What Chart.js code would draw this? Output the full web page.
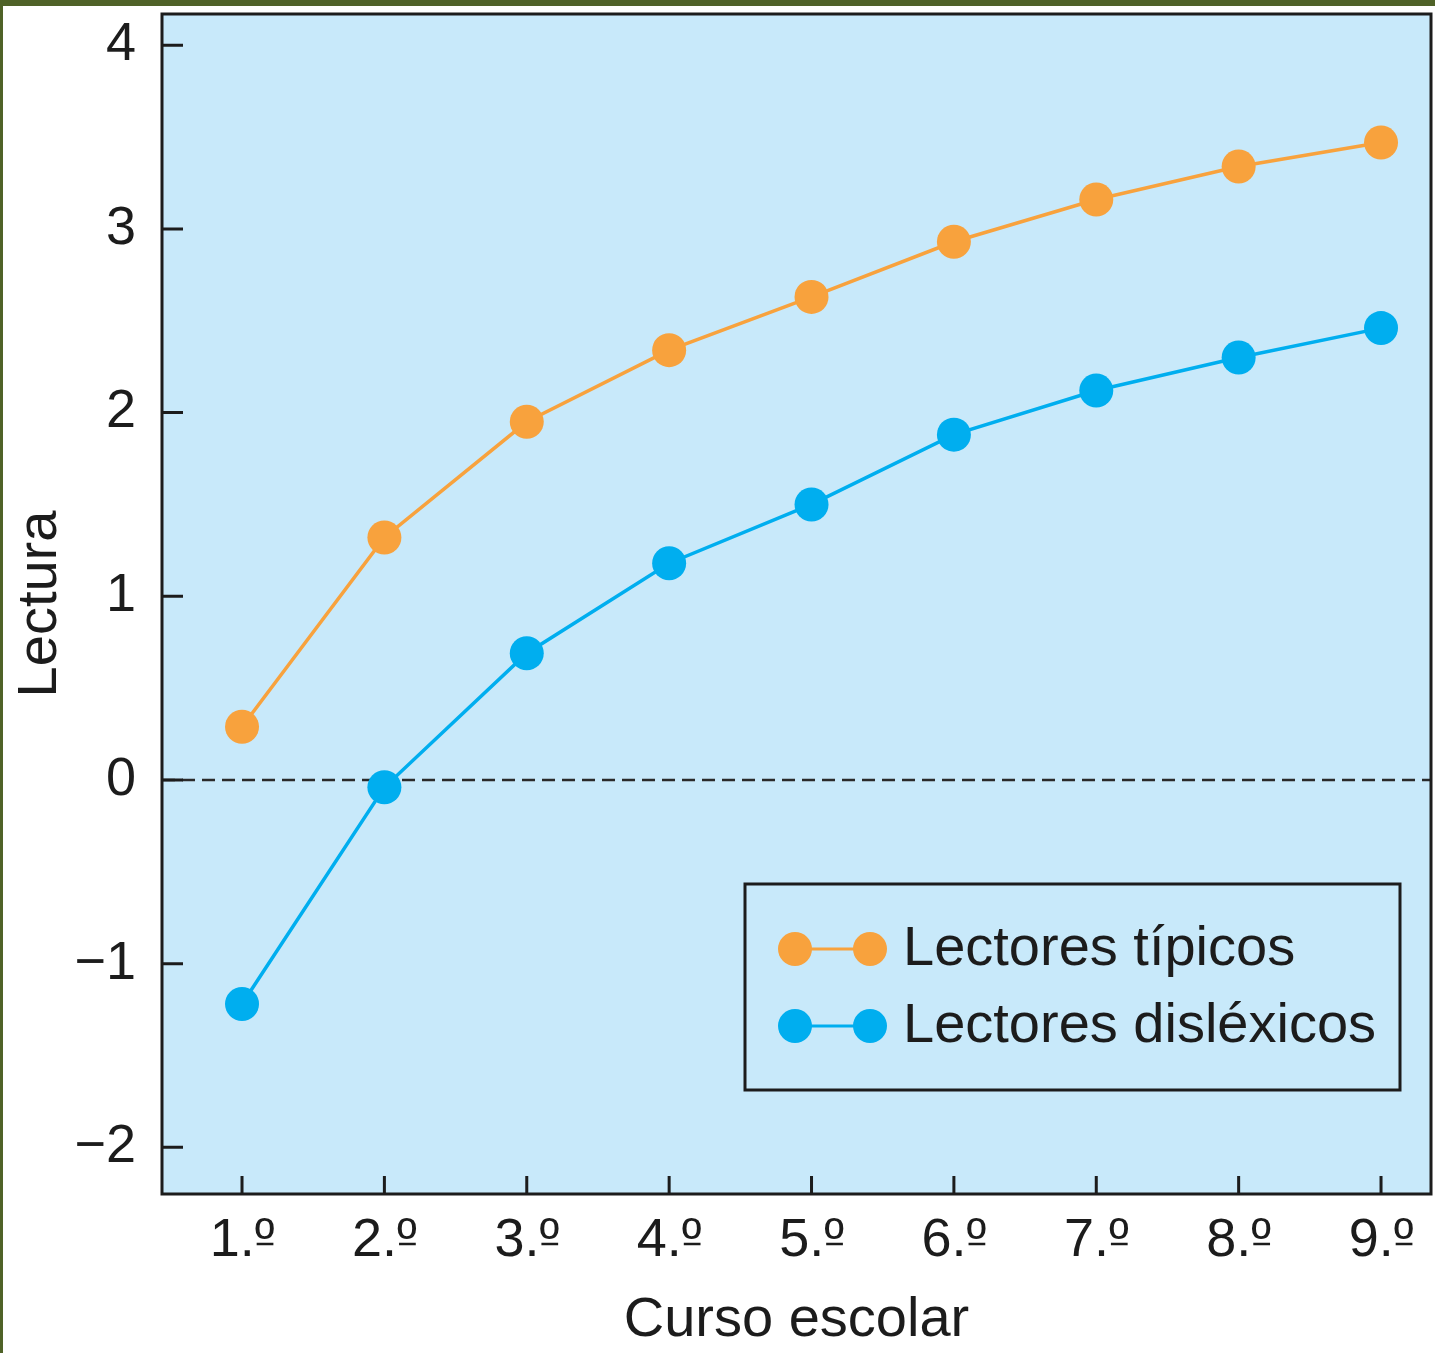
<!DOCTYPE html>
<html>
<head>
<meta charset="utf-8">
<script src="https://cdn.jsdelivr.net/npm/chart.js@4.4.1/dist/chart.umd.min.js"></script>
<style>
html,body{margin:0;padding:0;background:#fff;}
#wrap{position:relative;width:1435px;height:1353px;overflow:hidden;}
#c{position:absolute;left:0;top:0;}
#frameTop{position:absolute;left:0;top:0;width:1435px;height:6px;background:#4f6228;}
#frameLeft{position:absolute;left:0;top:0;width:3px;height:1353px;background:#4f6228;}
</style>
</head>
<body>
<div id="wrap">
<canvas id="c" width="1435" height="1353" style="width:1435px;height:1353px;"></canvas>
<div id="frameTop"></div><div id="frameLeft"></div>
</div>
<script>
// ---- data ----
const grades = ['1.º','2.º','3.º','4.º','5.º','6.º','7.º','8.º','9.º'];
const gradeNumbers = [1,2,3,4,5,6,7,8,9];
const typicalReaders = [0.29,1.32,1.95,2.34,2.63,2.93,3.16,3.34,3.47];
const dyslexicReaders = [-1.22,-0.04,0.69,1.18,1.50,1.88,2.12,2.30,2.46];
const yTickValues = [-2,-1,0,1,2,3,4];
const seriesNames = ['Lectores típicos','Lectores disléxicos'];
const yTitle = 'Lectura';
const xTitle = 'Curso escolar';

// ---- styles ----
const ORANGE = '#F8A23D';
const BLUE = '#00AEEF';
const PLOT_BG = '#C8E9FA';
const INK = '#1c1c1c';
const FONT = '"Liberation Sans", Arial, Helvetica, sans-serif';
const TICK_SIZE = 54;

Chart.defaults.font.family = FONT;

const toPoints = arr => arr.map((v,i)=>({x:gradeNumbers[i], y:v}));
const zeroPad = s => { s.paddingTop = 0; s.paddingBottom = 0; s.paddingLeft = 0; s.paddingRight = 0; };

const plotDecor = {
  id:'plotDecor',
  beforeDatasetsDraw(chart){
    const {ctx, chartArea:a, scales:{x,y}} = chart;
    ctx.save();
    ctx.fillStyle = PLOT_BG;
    ctx.fillRect(a.left, a.top, a.right-a.left, a.bottom-a.top);
    const y0 = y.getPixelForValue(0);
    ctx.strokeStyle = '#2a2a2a';
    ctx.lineWidth = 2.5;
    ctx.setLineDash([13,7]);
    ctx.beginPath();
    ctx.moveTo(a.left, y0);
    ctx.lineTo(a.right, y0);
    ctx.stroke();
    ctx.restore();
  },
  afterDatasetsDraw(chart){
    const {ctx, chartArea:a, scales:{x,y}} = chart;
    ctx.save();
    ctx.strokeStyle = INK;
    ctx.lineWidth = 3;
    ctx.beginPath();
    y.ticks.forEach(t=>{
      const py = y.getPixelForValue(t.value);
      ctx.moveTo(a.left, py); ctx.lineTo(a.left+21, py);
    });
    x.ticks.forEach(t=>{
      const px = x.getPixelForValue(t.value);
      ctx.moveTo(px, a.bottom); ctx.lineTo(px, a.bottom-18);
    });
    ctx.stroke();
    ctx.strokeRect(a.left, a.top, a.right-a.left, a.bottom-a.top);
    // underline of the ordinal indicator in the x tick labels
    ctx.font = TICK_SIZE + 'px ' + FONT;
    const wo = ctx.measureText('º').width;
    const ly = a.bottom + 20 + TICK_SIZE/2 + 3;
    ctx.lineWidth = 2.5;
    ctx.beginPath();
    x.ticks.forEach((t,i)=>{
      const px = x.getPixelForValue(t.value);
      const w = ctx.measureText(grades[i]).width;
      const r = px + w/2;
      ctx.moveTo(r - wo + 2, ly); ctx.lineTo(r - 1, ly);
    });
    ctx.stroke();
    ctx.restore();
  }
};

const boxLegend = {
  id:'boxLegend',
  afterDatasetsDraw(chart){
    const ctx = chart.ctx;
    ctx.save();
    ctx.strokeStyle = INK;
    ctx.lineWidth = 3;
    ctx.strokeRect(745, 884, 655, 206);
    chart.data.datasets.forEach((ds,i)=>{
      const cy = 949 + i*77;
      ctx.strokeStyle = ds.borderColor;
      ctx.lineWidth = 3;
      ctx.beginPath(); ctx.moveTo(795, cy); ctx.lineTo(870, cy); ctx.stroke();
      ctx.fillStyle = ds.backgroundColor;
      [795, 870].forEach(cx=>{
        ctx.beginPath(); ctx.arc(cx, cy, 17, 0, Math.PI*2); ctx.fill();
      });
      ctx.fillStyle = INK;
      ctx.font = '56px ' + FONT;
      ctx.textBaseline = 'middle';
      ctx.textAlign = 'left';
      ctx.fillText(ds.label, 903, cy+1);
    });
    ctx.restore();
  }
};

new Chart(document.getElementById('c'), {
  type:'line',
  data:{
    datasets:[
      {label:seriesNames[0], data:toPoints(typicalReaders), borderColor:ORANGE, backgroundColor:ORANGE,
       borderWidth:3.5, pointRadius:17, pointBorderWidth:0, pointBackgroundColor:ORANGE, tension:0},
      {label:seriesNames[1], data:toPoints(dyslexicReaders), borderColor:BLUE, backgroundColor:BLUE,
       borderWidth:3.5, pointRadius:17, pointBorderWidth:0, pointBackgroundColor:BLUE, tension:0}
    ]
  },
  options:{
    responsive:false,
    animation:false,
    devicePixelRatio:1,
    layout:{autoPadding:false, padding:{left:0,right:4,top:14,bottom:0}},
    plugins:{legend:{display:false}, tooltip:{enabled:false}},
    scales:{
      x:{
        type:'linear', position:'bottom', min:0.438, max:9.351,
        grid:{display:false, drawTicks:false}, border:{display:false},
        afterBuildTicks:s=>{ s.ticks = gradeNumbers.map(v=>({value:v})); },
        afterFit:s=>{ s.height = 159; zeroPad(s); },
        ticks:{autoSkip:false, maxRotation:0, padding:20, color:INK,
               font:{size:TICK_SIZE, lineHeight:1},
               callback:v=>grades[gradeNumbers.indexOf(v)]},
        title:{display:true, text:xTitle, color:INK, font:{size:56, lineHeight:1}, padding:{top:0,bottom:4}}
      },
      y:{
        type:'linear', position:'left', min:-2.254, max:4.170,
        grid:{display:false, drawTicks:false}, border:{display:false},
        afterBuildTicks:s=>{ s.ticks = yTickValues.map(v=>({value:v})); },
        afterFit:s=>{ s.width = 162; zeroPad(s); },
        ticks:{padding:26, color:INK, font:{size:TICK_SIZE, lineHeight:1},
               callback:v=> v<0 ? '\u2212'+Math.abs(v) : String(v)},
        title:{display:true, text:yTitle, color:INK, font:{size:56, lineHeight:1}, padding:{top:13,bottom:0}}
      }
    }
  },
  plugins:[plotDecor, boxLegend]
});
</script>
</body>
</html>
